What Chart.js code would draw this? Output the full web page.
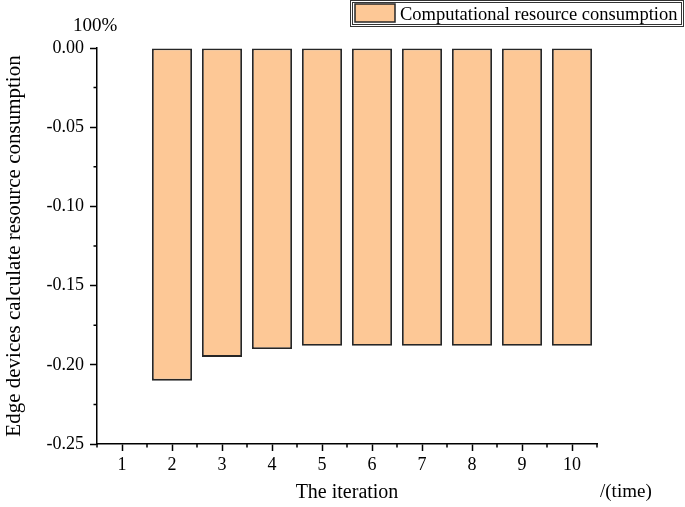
<!DOCTYPE html>
<html>
<head>
<meta charset="utf-8">
<script src="https://cdn.jsdelivr.net/npm/chart.js@4.4.0/dist/chart.umd.min.js"></script>
<style>
  body { margin: 0; background: #fff; }
  #wrap { width: 685px; height: 507px; }
</style>
</head>
<body>
<div id="wrap"><canvas id="chart" width="685" height="507"></canvas></div>
<script>
const iterations = ['1', '2', '3', '4', '5', '6', '7', '8', '9', '10'];
const consumption = [null, -0.210, -0.195, -0.190, -0.188, -0.188, -0.188, -0.188, -0.188, -0.188];
const seriesLabel = 'Computational resource consumption';
const yMin = -0.25;
const yMax = 0;
const yStep = 0.025;

const SERIF = '"Liberation Serif", "Times New Roman", serif';
const barFill = '#FDC896';
const barEdge = '#262626';

// minor ticks, the unit notes and the boxed legend
const extrasPlugin = {
    id: 'extras',
    afterDraw(chart) {
        const ctx = chart.ctx;
        const x = chart.scales.x;
        const y = chart.scales.y;
        ctx.save();
        ctx.strokeStyle = '#000';
        ctx.lineWidth = 1.5;
        ctx.beginPath();
        for (let i = 0; i <= iterations.length; i++) {
            const px = x.getPixelForValue(i - 0.5);
            ctx.moveTo(px, y.bottom);
            ctx.lineTo(px, y.bottom + 3.5);
        }
        for (let v = yMin + yStep; v < yMax; v += 2 * yStep) {
            const py = y.getPixelForValue(v);
            ctx.moveTo(x.left, py);
            ctx.lineTo(x.left - 3.5, py);
        }
        ctx.stroke();

        ctx.fillStyle = '#000';
        ctx.font = '19px ' + SERIF;
        ctx.textBaseline = 'alphabetic';
        ctx.textAlign = 'left';
        ctx.fillText('100%', 73, 31);
        ctx.fillText('/(time)', 600, 497);

        // legend box (double frame)
        ctx.font = '18.5px ' + SERIF;
        const left = 350, right = 684, top = 0, h = 26;
        ctx.strokeStyle = '#333';
        ctx.lineWidth = 1;
        ctx.strokeRect(left + 0.5, top + 0.5, right - left - 1, h);
        ctx.strokeRect(left + 2.5, top + 2.5, right - left - 5, h - 4);
        ctx.fillStyle = barFill;
        ctx.fillRect(left + 5, 4, 40, 18);
        ctx.strokeStyle = barEdge;
        ctx.lineWidth = 1.5;
        ctx.strokeRect(left + 5, 4, 40, 18);
        ctx.fillStyle = '#000';
        ctx.fillText(seriesLabel, left + 50, 20);
        ctx.restore();
    }
};

const ctx = document.getElementById('chart').getContext('2d');

new Chart(ctx, {
    type: 'bar',
    data: {
        labels: iterations,
        datasets: [{
            label: seriesLabel,
            data: consumption,
            backgroundColor: barFill,
            borderColor: barEdge,
            borderWidth: 1.8,
            borderSkipped: false,
            categoryPercentage: 1,
            barPercentage: 0.8
        }]
    },
    options: {
        responsive: false,
        animation: false,
        layout: { padding: { top: 48, right: 88, left: 0, bottom: 0 } },
        plugins: {
            legend: { display: false },
            tooltip: { enabled: false }
        },
        scales: {
            x: {
                offset: true,
                afterFit: (scale) => { scale.height = 63; },
                grid: {
                    offset: false,
                    drawOnChartArea: false,
                    tickLength: 7,
                    tickWidth: 1.5,
                    tickColor: '#000'
                },
                border: { display: true, color: '#000', width: 1.5 },
                ticks: {
                    color: '#000',
                    font: { family: SERIF, size: 18 },
                    padding: 3,
                    maxRotation: 0
                },
                title: {
                    display: true,
                    text: 'The iteration',
                    color: '#000',
                    font: { family: SERIF, size: 20 },
                    padding: { top: 2, bottom: 2 }
                }
            },
            y: {
                min: yMin,
                max: yMax,
                afterFit: (scale) => { scale.width = 97; },
                grid: {
                    drawOnChartArea: false,
                    tickLength: 7,
                    tickWidth: 1.5,
                    tickColor: (c) => (c.index % 2 === 0 ? '#000' : 'rgba(0,0,0,0)')
                },
                border: { display: true, color: '#000', width: 1.5 },
                ticks: {
                    stepSize: yStep,
                    color: '#000',
                    font: { family: SERIF, size: 18 },
                    padding: 6,
                    callback: (value, index) => (index % 2 === 0 ? Number(value).toFixed(2) : '')
                },
                title: {
                    display: true,
                    text: 'Edge devices calculate resource consumption',
                    color: '#000',
                    font: { family: SERIF, size: 21 },
                    padding: { top: 2, bottom: 2 }
                }
            }
        }
    },
    plugins: [extrasPlugin]
});
</script>
</body>
</html>
